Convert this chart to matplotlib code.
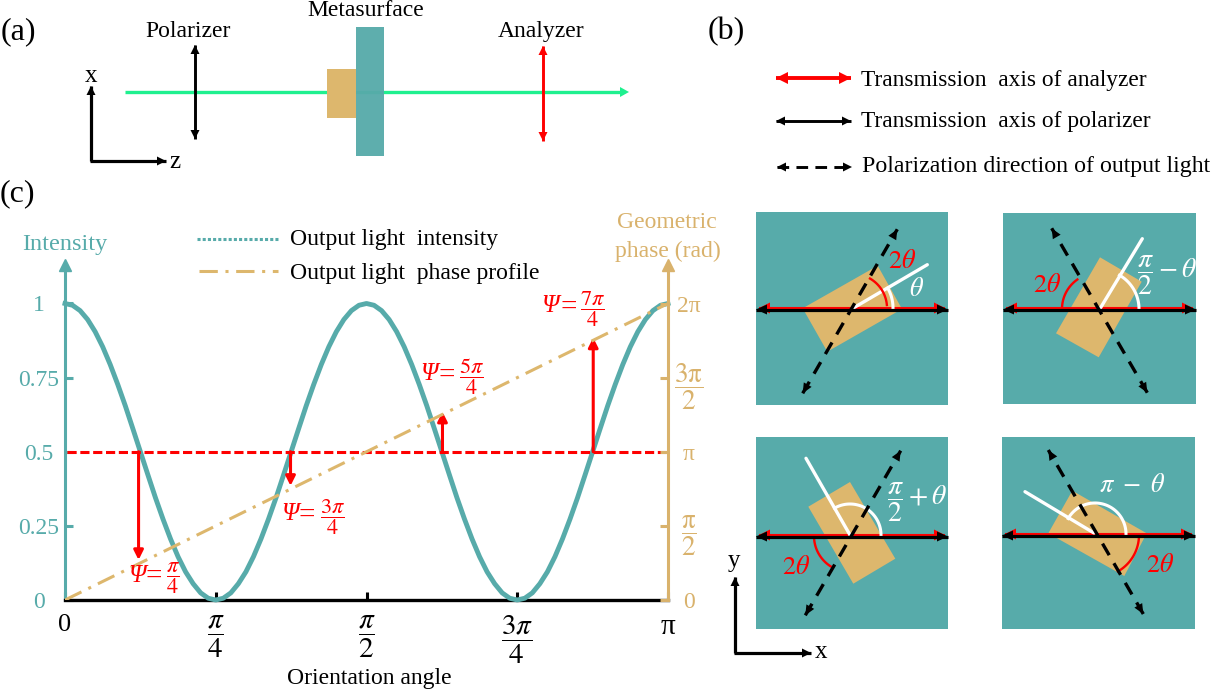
import matplotlib
matplotlib.use('Agg')
import matplotlib.pyplot as plt
from matplotlib.patches import Polygon, Rectangle
import numpy as np

plt.rcParams['font.family'] = ['Liberation Serif', 'DejaVu Serif']
plt.rcParams['mathtext.fontset'] = 'stix'

# values, x runs from 0 to pi in equal steps
intensity = [1.0, 0.994, 0.976, 0.946, 0.905, 0.854, 0.794, 0.727, 0.655, 0.578, 0.5,
             0.422, 0.345, 0.273, 0.206, 0.146, 0.095, 0.055, 0.024, 0.006, 0.0,
             0.006, 0.024, 0.055, 0.095, 0.146, 0.206, 0.273, 0.345, 0.422, 0.5,
             0.578, 0.655, 0.727, 0.794, 0.854, 0.905, 0.946, 0.976, 0.994, 1.0,
             0.994, 0.976, 0.946, 0.905, 0.854, 0.794, 0.727, 0.655, 0.578, 0.5,
             0.422, 0.345, 0.273, 0.206, 0.146, 0.095, 0.055, 0.024, 0.006, 0.0,
             0.006, 0.024, 0.055, 0.095, 0.146, 0.206, 0.273, 0.345, 0.422, 0.5,
             0.578, 0.655, 0.727, 0.794, 0.854, 0.905, 0.946, 0.976, 0.994, 1.0]
phase_angle = [0.0, 1.0]
phase_value = [0.0, 2 * np.pi]
half_level = 0.5
arrow_angle = [0.122, 0.374, 0.626, 0.876]
arrow_end = [0.135, 0.385, 0.635, 0.885]
psi_text = [r'$\dfrac{\pi}{4}$', r'$\dfrac{3\pi}{4}$', r'$\dfrac{5\pi}{4}$', r'$\dfrac{7\pi}{4}$']

x_ticks = [0, 0.25, 0.5, 0.75, 1]
x_labels = ['0', r'$\dfrac{\pi}{4}$', r'$\dfrac{\pi}{2}$', r'$\dfrac{3\pi}{4}$', 'π']
left_ticks = [0, 0.25, 0.5, 0.75, 1]
left_labels = ['0', '0.25', '0.5', '0.75', '1']
right_ticks = [0, np.pi / 2, np.pi, 3 * np.pi / 2, 2 * np.pi]
right_labels = ['0', r'$\dfrac{\mathrm{\pi}}{2}$', 'π', r'$\dfrac{3\mathrm{\pi}}{2}$', '2π']

TEAL = '#57abaa'
TAN = '#ddb76d'
AXTAN = '#d9b26c'
GREEN = '#1ff08f'
RED = '#fe0000'

fig = plt.figure(figsize=(12.12, 6.9), dpi=100)

# panel (c)
ax = fig.add_axes([65 / 1212, 90 / 690, 603 / 1212, 335 / 690])
ax.patch.set_visible(False)
ymax = 335 / 296.5
ax.set_xlim(0, 1)
ax.set_ylim(0, ymax)
ax2 = ax.twinx()
ax2.patch.set_visible(False)
ax2.set_ylim(0, 2 * np.pi * ymax)

angle = np.linspace(0, 1, len(intensity))
ax.plot(angle, intensity, color=TEAL, lw=3.5, zorder=3, clip_on=False)
ax2.plot(phase_angle, phase_value, color=TAN, lw=2.2, ls=(0, (6, 2.5, 1, 2.5)), zorder=2)
ax.plot([0.004, 0.997], [half_level, half_level], color=RED, lw=2.2, ls=(0, (3, 1.2)), zorder=4)
for a, e in zip(arrow_angle, arrow_end):
    ax.annotate('', xy=(a, e), xytext=(a, half_level), zorder=5,
                arrowprops=dict(arrowstyle='-|>', color=RED, lw=2.2, mutation_scale=14,
                                shrinkA=0, shrinkB=0))

for s in ['top', 'right']:
    ax.spines[s].set_visible(False)
ax.spines['left'].set_color(TEAL)
ax.spines['left'].set_linewidth(2.2)
ax.spines['bottom'].set_color('black')
ax.spines['bottom'].set_linewidth(2.4)
for s in ['top', 'left', 'bottom']:
    ax2.spines[s].set_visible(False)
ax2.spines['right'].set_color(AXTAN)
ax2.spines['right'].set_linewidth(2.2)

ax.set_xticks(x_ticks)
ax.set_xticklabels(x_labels, fontsize=21)
ax.tick_params(axis='x', direction='in', length=6, width=2.2, pad=10)
ax.get_xticklabels()[0].set_fontsize(19)
ax.get_xticklabels()[4].set_fontsize(21)
ax.set_yticks(left_ticks)
ax.set_yticklabels(left_labels, fontsize=17, color=TEAL)
ax.tick_params(axis='y', direction='in', length=6, width=2.2, color=TEAL, pad=19)
for lab in ax.get_yticklabels():
    lab.set_ha('center')
ax2.set_yticks(right_ticks)
ax2.set_yticklabels(right_labels, fontsize=17, color=AXTAN)
ax2.tick_params(axis='y', direction='in', length=6, width=2.2, color=AXTAN, pad=15)
for lab in ax2.get_yticklabels():
    lab.set_ha('center')
    if lab.get_text().startswith('$'):
        lab.set_fontsize(19.5)
ax.plot(0, 1, '^', color=TEAL, ms=8, clip_on=False, transform=ax.transAxes, zorder=6)
ax.plot(1, 1, '^', color=AXTAN, ms=8, clip_on=False, transform=ax.transAxes, zorder=6)

# everything else is placed in image pixels
ov = fig.add_axes([0, 0, 1, 1], zorder=5)
ov.set_xlim(0, 1212)
ov.set_ylim(690, 0)
ov.axis('off')


def txt(x, y, s, size=17, color='black', **kw):
    if not s.startswith('$'):
        y = y + 1.5
    ov.text(x, y, s, fontsize=size, color=color, ha=kw.pop('ha', 'center'), va='center', **kw)


def head(tip, tail, color='black', length=11, width=10, z=6):
    tip = np.array(tip, float)
    tail = np.array(tail, float)
    d = (tip - tail) / np.linalg.norm(tip - tail)
    n = np.array([-d[1], d[0]])
    base = tip - d * length
    ov.add_patch(Polygon([tip, base + n * width / 2, base - n * width / 2], color=color, lw=0, zorder=z))


def arrow(p0, p1, color='black', lw=2.2, both=False, ls='-', length=11, width=10, z=5):
    ov.plot([p0[0], p1[0]], [p0[1], p1[1]], color=color, lw=lw, ls=ls, zorder=z,
            solid_capstyle='butt', dash_capstyle='butt')
    head(p1, p0, color, length, width, z + 1)
    if both:
        head(p0, p1, color, length, width, z + 1)


def arc(cx, cy, r, a0, a1, color, lw=2):
    t = np.radians(np.linspace(a0, a1, 60))
    ov.plot(cx + r * np.cos(t), cy - r * np.sin(t), color=color, lw=lw, zorder=4)


# panel (a)
txt(18, 30, '(a)', 23)
txt(188, 30, 'Polarizer')
txt(366, 9, 'Metasurface')
txt(541, 30, 'Analyzer')
ov.plot([125, 620], [92, 92], color=GREEN, lw=2.4, zorder=1, solid_capstyle='butt')
head((629, 92), (600, 92), GREEN, 9, 10, 1)
ov.add_patch(Rectangle((327, 69), 29, 49, color=TAN, lw=0, zorder=2))
ov.add_patch(Rectangle((356, 27), 28, 129, color=TEAL, alpha=0.96, lw=0, zorder=2))
arrow((195, 45), (195, 139), both=True, lw=2.1, length=9, width=9)
arrow((543, 46), (543, 141), RED, both=True, lw=2.1, length=9, width=9)
arrow((91, 161), (91, 86), lw=2.3, length=9, width=9)
arrow((90, 161), (166, 161), lw=2.3, length=9, width=9)
txt(91, 75, 'x', 18)
txt(175, 160, 'z', 18)

# panel (b)
txt(726, 30, '(b)', 23)
arrow((776, 78), (851, 78), RED, lw=2.8, both=True, length=12, width=12)
arrow((776, 121), (851, 121), lw=2.1, both=True, length=9, width=9)
arrow((777, 167), (852, 167), lw=2.1, both=True, ls=(0, (4, 2.5)), length=9, width=9)
txt(861, 79, 'Transmission  axis of analyzer', 16.8, ha='left')
txt(861, 120, 'Transmission  axis of polarizer', 16.8, ha='left')
txt(862, 165, 'Polarization direction of output light', 17.2, ha='left')

# panel (c) texts
txt(17, 192, '(c)', 23)
txt(65, 243, 'Intensity', 17.5, TEAL)
txt(667, 221, 'Geometric', 17, AXTAN)
txt(668, 250, 'phase (rad)', 17, AXTAN)
txt(369, 677, 'Orientation angle')
ov.plot([197, 278], [239, 239], color=TEAL, lw=2.2, ls=(0, (1, 0.7)))
ov.plot([199, 278], [271, 271], color=TAN, lw=2.2, ls=(0, (6, 2.5, 1, 2.5)))
txt(290, 238, 'Output light  intensity', 17, ha='left')
txt(290, 272, 'Output light  phase profile', 17, ha='left')
psi_spots = [(137, 154, 173, 578), (290, 307, 333, 517), (429, 447, 472, 377), (550, 569, 593, 309)]
for (xp, xe, xf, y), s in zip(psi_spots, psi_text):
    txt(xp, y - 4, 'Ψ', 18, RED, style='italic')
    txt(xe, y - 3, '=', 21, RED)
    txt(xf, y, s, 16, RED)

# the four square diagrams
panels = [
    dict(box=(756, 212, 192, 193), y=309, rect=[(802.7, 308.3), (877.7, 265.7), (902, 309), (827.3, 351.7)],
         white=[(853.3, 308), (927.3, 264.7)], warc=(853, 308, 40, 0, 30), rarc=(853, 308, 34, 5, 60),
         dash=[(802.7, 393.3), (897.3, 229.3)]),
    dict(box=(1003, 213, 193, 191), y=309, rect=[(1100, 257.3), (1141.7, 281.7), (1098.7, 357.3), (1056, 333.3)],
         white=[(1100, 308.7), (1142.3, 238.7)], warc=(1100, 309, 39, 0, 60), rarc=(1098, 309, 36, 180, 125),
         dash=[(1147.3, 392.7), (1051.7, 228.3)]),
    dict(box=(756, 437, 192, 192), y=536, rect=[(808.3, 506.7), (850, 482), (895.3, 558.7), (853.3, 583.7)],
         white=[(850, 535), (806, 458.3)], warc=(850, 535, 31, 0, 120), rarc=(850, 536, 36, 180, 240),
         dash=[(805.3, 615.3), (900.7, 450.7)]),
    dict(box=(1002, 437, 193, 192), y=535, rect=[(1072.3, 490.7), (1146.7, 533.3), (1124.3, 576), (1048.3, 533.3)],
         white=[(1094, 533), (1025, 491.7)], warc=(1095, 534, 31, 0, 150), rarc=(1097, 535, 42, 0, -60),
         dash=[(1143.3, 614), (1048.3, 450)]),
]
for p in panels:
    bx, by, bw, bh = p['box']
    ov.add_patch(Rectangle((bx, by), bw, bh, color=TEAL, lw=0, zorder=1))
    ov.add_patch(Polygon(p['rect'], color=TAN, lw=0, zorder=2))
    arrow((bx + 3, p['y'] - 1), (bx + bw - 3, p['y'] - 1), RED, lw=1.5, both=True, length=11, width=11, z=3)
    arrow((bx, p['y'] + 0.5), (bx + bw, p['y'] + 0.5), lw=2.3, both=True, length=11, width=10, z=5)
    ov.plot(*zip(*p['white']), color='white', lw=2.4, zorder=4, solid_capstyle='round')
    arc(*p['warc'], 'white', lw=2.2)
    arc(*p['rarc'], RED, lw=1.7)
    arrow(p['dash'][0], p['dash'][1], lw=2.4, both=True, ls=(0, (4, 2.8)), length=10, width=9, z=5)

txt(902, 262, r'$2\theta$', 19, RED)
txt(917, 290, r'$\theta$', 19, 'white')
txt(1167, 275, r'$\dfrac{\pi}{2}-\theta$', 20, 'white')
txt(1047, 286, r'$2\theta$', 19, RED)
txt(917, 502, r'$\dfrac{\pi}{2}+\theta$', 20, 'white')
txt(796, 567, r'$2\theta$', 19, RED)
txt(1132, 485, r'$\pi\ -\ \theta$', 19, 'white')
txt(1160, 565, r'$2\theta$', 19, RED)

arrow((735, 653), (735, 577), lw=2.3, length=9, width=9)
arrow((734, 653), (811, 653), lw=2.3, length=9, width=9)
txt(734, 559, 'y', 18)
txt(821, 651, 'x', 18)

fig.savefig('out.png', dpi=100)
